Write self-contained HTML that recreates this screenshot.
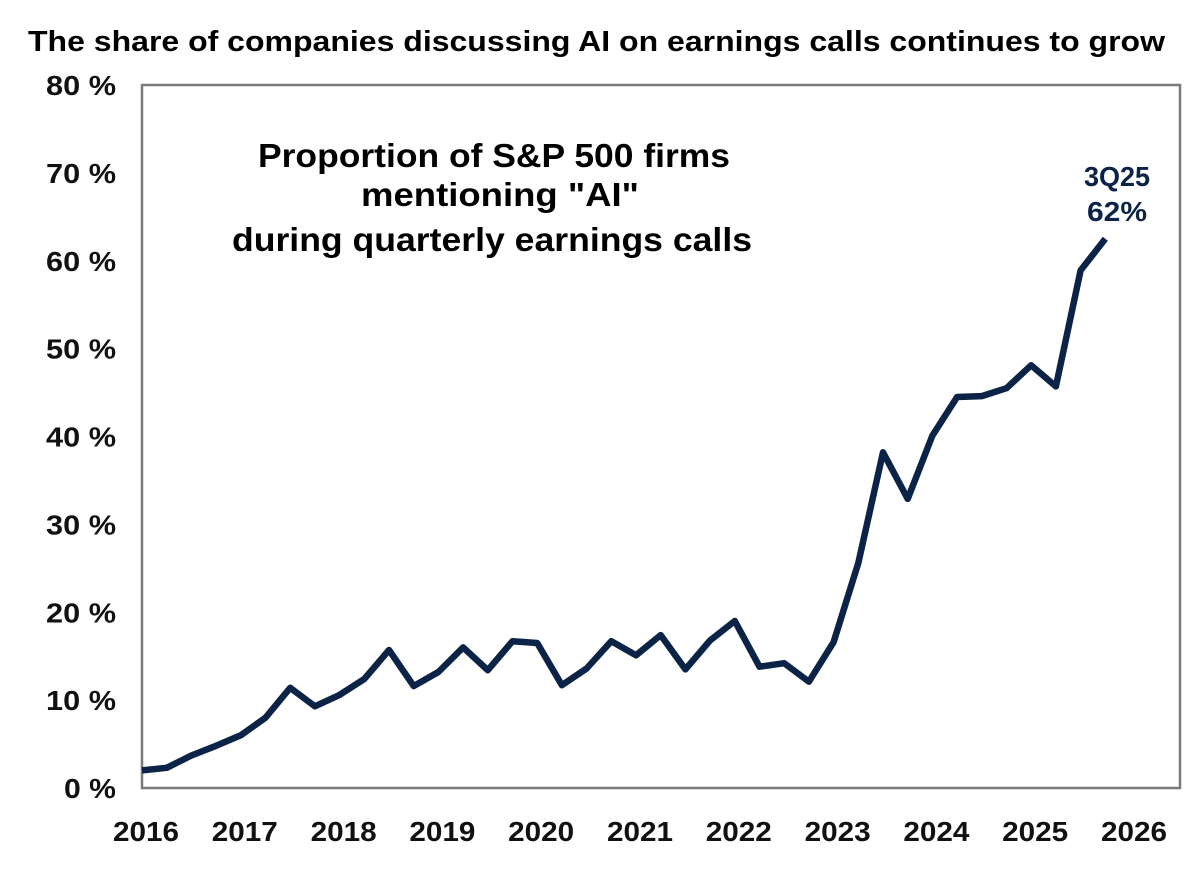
<!DOCTYPE html>
<html><head><meta charset="utf-8"><style>
html,body{margin:0;padding:0;background:#fff;}
svg{display:block;font-family:"Liberation Sans",Arial,sans-serif;}
</style></head><body>
<svg id="chart" width="1200" height="870" viewBox="0 0 1200 870">
<text x="28" y="51" font-size="29" font-weight="bold" textLength="1137" lengthAdjust="spacingAndGlyphs" fill="#000">The share of companies discussing AI on earnings calls continues to grow</text>
<rect x="142" y="85" width="1038" height="703" fill="none" stroke="#7a7a7a" stroke-width="2.5"/>
<g id="yticks"></g><g id="xticks"></g>
<g font-weight="bold" font-size="33" fill="#000" text-anchor="middle">
<text x="494" y="167" textLength="472" lengthAdjust="spacingAndGlyphs">Proportion of S&amp;P 500 firms</text>
<text x="500" y="206" textLength="278" lengthAdjust="spacingAndGlyphs">mentioning "AI"</text>
<text x="492" y="251" textLength="520" lengthAdjust="spacingAndGlyphs">during quarterly earnings calls</text>
</g>
<g font-weight="bold" font-size="28" fill="#0b2346" text-anchor="middle">
<text x="1117" y="186" textLength="66" lengthAdjust="spacingAndGlyphs">3Q25</text>
<text x="1117" y="221" textLength="60" lengthAdjust="spacingAndGlyphs">62%</text>
</g>
<path id="series" fill="none" stroke="#0b2346" stroke-width="6.5" stroke-linejoin="round" stroke-linecap="butt"/>
</svg>
<script>
const yTicks = [0,10,20,30,40,50,60,70,80];
const xYears = [2016,2017,2018,2019,2020,2021,2022,2023,2024,2025,2026];
const startYear = 2016;
const values = [2.0,2.3,3.7,4.8,6.0,8.0,11.4,9.3,10.6,12.4,15.7,11.6,13.2,16.0,13.4,16.7,16.5,11.7,13.6,16.7,15.1,17.4,13.5,16.8,19.0,13.8,14.2,12.1,16.6,25.6,38.2,32.9,40.1,44.5,44.6,45.5,48.1,45.7,58.9,62.5];
const ns='http://www.w3.org/2000/svg';
const X0=142, pxYear=98.8, Y0=788, pxPct=703/80;
const xs=t=>X0+(t-startYear)*pxYear;
const ys=v=>Y0-v*pxPct;
const yg=document.getElementById('yticks');
yTicks.forEach(v=>{const t=document.createElementNS(ns,'text');


t.setAttribute('x',116);t.setAttribute('y',ys(v)+10);t.setAttribute('text-anchor','end');
t.setAttribute('font-size','28');t.setAttribute('font-weight','bold');t.setAttribute('fill','#111');
t.setAttribute('textLength', v===0?52:70);t.setAttribute('lengthAdjust','spacingAndGlyphs');
t.textContent=v+' %';yg.appendChild(t);});
const xg=document.getElementById('xticks');
xYears.forEach(y=>{const t=document.createElementNS(ns,'text');


t.setAttribute('x',xs(y)+4);t.setAttribute('y',841);t.setAttribute('text-anchor','middle');
t.setAttribute('font-size','28');t.setAttribute('font-weight','bold');t.setAttribute('fill','#111');
t.setAttribute('textLength',66);t.setAttribute('lengthAdjust','spacingAndGlyphs');
t.textContent=y;xg.appendChild(t);});
document.getElementById('series').setAttribute('d',values.map((v,i)=>(i?'L':'M')+xs(startYear+i/4).toFixed(1)+' '+ys(v).toFixed(1)).join(' '));
</script>
</body></html>
